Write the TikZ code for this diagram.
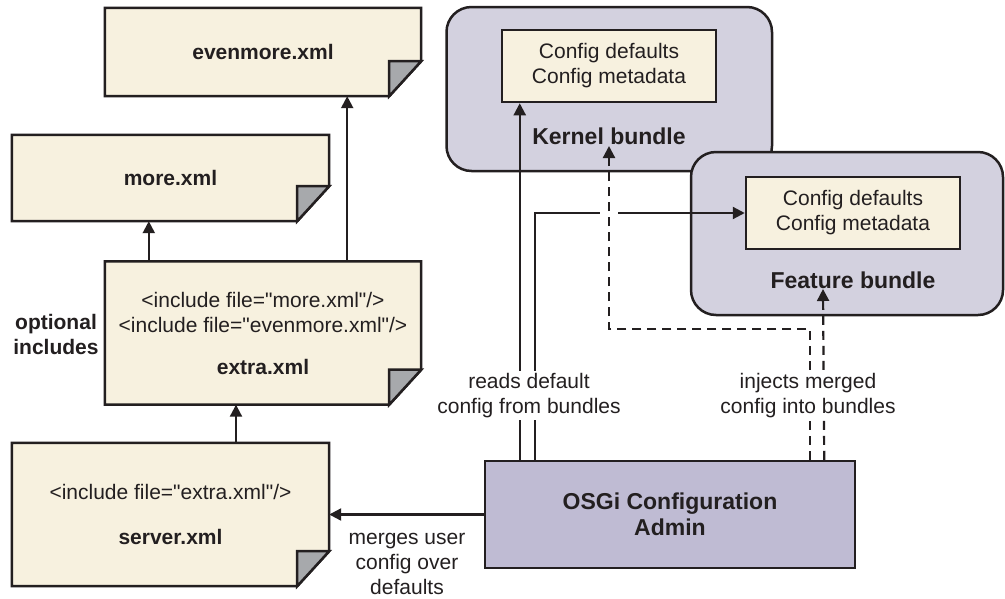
\documentclass[tikz,border=0pt]{standalone}
\usepackage{fontspec}
\setmainfont{Liberation Sans}[Ligatures=TeXOff]
\usetikzlibrary{arrows.meta,backgrounds,calc}
\definecolor{cream}{RGB}{247,241,223}
\definecolor{foldgray}{RGB}{167,169,172}
\definecolor{bundlefill}{RGB}{211,209,223}
\definecolor{osgifill}{RGB}{191,187,211}
\definecolor{ink}{RGB}{35,31,32}
\tikzset{
  txt/.style={font=\fontsize{21}{25}\selectfont, text=ink, align=center, inner sep=0pt},
  btxt/.style={font=\fontsize{21}{25}\selectfont\bfseries, text=ink, align=center, inner sep=0pt},
  bigbtxt/.style={font=\fontsize{23}{26}\selectfont\bfseries, text=ink, align=center, inner sep=0pt},
  docnode/.style={txt, draw=none, minimum width=#1, inner sep=0pt},
  docline/.style={draw=ink, line width=2.5pt, line join=miter},
  bundle/.style={draw=ink, fill=bundlefill, line width=2.5pt, rounded corners=25pt, minimum width=#1, inner sep=0pt},
  cfgbox/.style={txt, draw=ink, fill=cream, line width=2.5pt, minimum width=214pt, minimum height=72pt},
  osgibox/.style={bigbtxt, draw=ink, fill=osgifill, line width=2.5pt, minimum width=370pt, minimum height=107pt},
  conn/.style={draw=ink, line width=2.2pt, -{Triangle[width=12pt,length=12pt]}},
  dconn/.style={conn, dash pattern=on 9pt off 6pt},
  lbl/.style={txt, fill=white, inner sep=2pt}
}
\newcommand{\docshape}[1]{%
  \filldraw[docline, fill=cream] (#1.north west) -- (#1.north east) -- ([yshift=35pt]#1.south east) -- ([xshift=-32pt]#1.south east) -- (#1.south west) -- cycle;
  \filldraw[docline, fill=foldgray] ([xshift=-32pt,yshift=35pt]#1.south east) -- ([yshift=35pt]#1.south east) -- ([xshift=-32pt]#1.south east) -- cycle;}
\begin{document}
\begin{tikzpicture}[x=1pt,y=-1pt]
\begin{scope}[on background layer]
  \fill[white] (0,0) rectangle (1005,598);
\end{scope}
\useasboundingbox (0,0) rectangle (1005,598);

% documents
\node[docnode=316pt, minimum height=88pt] (evenmore) at (263,52) {\bfseries evenmore.xml};
\node[docnode=317pt, minimum height=86pt] (more) at (170.5,178) {\bfseries more.xml};
\node[docnode=316pt, minimum height=143pt] (extra) at (263,333) {<include file="more.xml"/>\\<include file="evenmore.xml"/>\\[17pt]\bfseries extra.xml};
\node[docnode=317pt, minimum height=143pt] (server) at (170.5,514.5) {<include file="extra.xml"/>\\[20pt]\bfseries server.xml};
\begin{scope}[on background layer]
  \docshape{evenmore}
  \docshape{more}
  \docshape{extra}
  \docshape{server}
\end{scope}
\node[btxt] (optional) at (56,334) {optional\\includes};

% bundles
\node[bundle=325.5pt, minimum height=164pt] (kernel) at (609.25,89) {};
\node[cfgbox] (kcfg) at (609,66) {Config defaults\\Config metadata};
\node[bigbtxt] (klabel) at (609,136) {Kernel bundle};
\node[bundle=312pt, minimum height=163pt] (feature) at (847,233.5) {};
\node[cfgbox] (fcfg) at (853,213) {Config defaults\\Config metadata};
\node[bigbtxt] (flabel) at (853,280) {Feature bundle};

% OSGi
\node[osgibox] (osgi) at (670,514.5) {OSGi Configuration\\Admin};

\coordinate (ktip) at (609,146);
\coordinate (ftip) at (823,289);
\coordinate (cross) at (ktip |- fcfg.west);

% document arrows
\draw[conn] ([xshift=44pt]extra.north west) -- ([xshift=44pt]extra.north west |- more.south);
\draw[conn] ([xshift=-74pt]extra.north east) -- ([xshift=-74pt]extra.north east |- evenmore.south);
\draw[conn] ([xshift=65.5pt]server.north) -- ([xshift=65.5pt]server.north |- extra.south);
\draw[conn] (osgi.west) -- (server.east);

% bundle connectors
\draw[conn] ([xshift=36pt]osgi.north west) -- ([xshift=36pt]osgi.north west |- kcfg.south);
\draw[conn] ([xshift=51pt]osgi.north west) |- (fcfg.west);
\draw[white, line width=5pt] ([xshift=-9pt]cross) -- ([xshift=9pt]cross);
\draw[dconn] ([xshift=-46pt]osgi.north east) -- ++(0,-131) -| (ktip);
\draw[dconn] ([xshift=-32pt]osgi.north east) -- (ftip);

% labels
\node[lbl] (readlbl) at (529,395.5) {reads default\\config from bundles};
\node[lbl] (injlbl) at (808,395.5) {injects merged\\config into bundles};
\node[txt] (mergelbl) at (407,564) {merges user\\config over\\defaults};
\end{tikzpicture}
\end{document}
